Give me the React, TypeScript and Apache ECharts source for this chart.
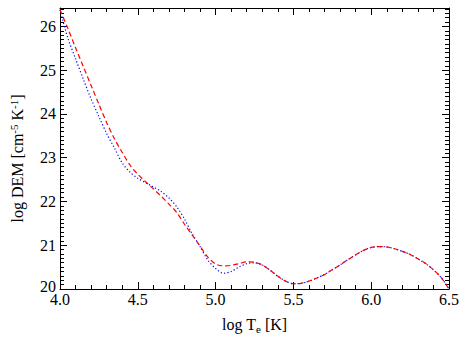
import React, { useEffect, useRef } from "react";
import * as echarts from "echarts";

const logT = [
  4.0, 4.05, 4.1, 4.15, 4.2, 4.25, 4.3, 4.35, 4.4, 4.45, 4.5, 4.55, 4.6, 4.65, 4.7, 4.75, 4.8,
  4.85, 4.9, 4.95, 5.0, 5.05, 5.1, 5.15, 5.2, 5.25, 5.3, 5.35, 5.4, 5.45, 5.5, 5.55, 5.6, 5.65,
  5.7, 5.75, 5.8, 5.85, 5.9, 5.95, 6.0, 6.05, 6.1, 6.15, 6.2, 6.25, 6.3, 6.35, 6.4, 6.45, 6.5,
];

const demRed = [
  26.38, 25.96, 25.51, 25.08, 24.65, 24.22, 23.8, 23.43, 23.12, 22.83, 22.62, 22.45, 22.29,
  22.12, 21.94, 21.75, 21.48, 21.23, 20.98, 20.73, 20.57, 20.53, 20.54, 20.58, 20.62, 20.61,
  20.55, 20.43, 20.29, 20.18, 20.12, 20.13, 20.18, 20.25, 20.33, 20.44, 20.55, 20.67, 20.78,
  20.88, 20.95, 20.97, 20.96, 20.92, 20.86, 20.79, 20.69, 20.58, 20.44, 20.26, 20.0,
];

const demBlue = [
  26.38, 25.74, 25.26, 24.79, 24.34, 23.94, 23.55, 23.22, 22.88, 22.67, 22.53, 22.43, 22.33,
  22.23, 22.08, 21.88, 21.6, 21.26, 20.97, 20.66, 20.47, 20.36, 20.4, 20.5, 20.58, 20.6,
  20.55, 20.43, 20.29, 20.18, 20.12, 20.13, 20.18, 20.25, 20.33, 20.44, 20.55, 20.67, 20.78,
  20.88, 20.95, 20.97, 20.96, 20.92, 20.86, 20.79, 20.69, 20.58, 20.44, 20.26, 20.0,
];

const FONT = "'Liberation Serif', 'Times New Roman', serif";

export default function App() {
  const ref = useRef<HTMLDivElement>(null);
  useEffect(() => {
    if (!ref.current) return;
    const chart = echarts.init(ref.current, undefined, { renderer: "svg" });
    const axisLineStyle = { color: "#000", width: 1 };
    const xCommon = {
      type: "value" as const,
      min: 4.0,
      max: 6.5,
      interval: 0.5,
      splitLine: { show: false },
      axisLine: { show: true, onZero: false, lineStyle: axisLineStyle },
      axisTick: { show: true, inside: true, length: 7, lineStyle: axisLineStyle },
      minorTick: { show: true, splitNumber: 5, length: 4, lineStyle: axisLineStyle },
    };
    const yCommon = {
      type: "value" as const,
      min: 20,
      max: 26.42,
      interval: 1,
      splitLine: { show: false },
      axisLine: { show: true, onZero: false, lineStyle: axisLineStyle },
      axisTick: { show: true, inside: true, length: 7, lineStyle: axisLineStyle },
      minorTick: { show: true, splitNumber: 10, length: 4, lineStyle: axisLineStyle },
    };
    chart.setOption({
      animation: false,
      backgroundColor: "#fff",
      textStyle: { fontFamily: FONT },
      grid: { left: 53, right: 25, top: 8, bottom: 47, containLabel: false },
      xAxis: [
        {
          ...xCommon,
          position: "bottom",
          name: "log T{sub|e} [K]",
          nameLocation: "middle",
          nameGap: 26,
          nameTextStyle: {
            fontFamily: FONT,
            fontSize: 16,
            color: "#000",
            rich: { sub: { fontFamily: FONT, fontSize: 11, color: "#000", verticalAlign: "bottom", padding: [8, 0, 0, 0] } },
          },
          axisLabel: {
            fontFamily: FONT,
            fontSize: 16,
            color: "#000",
            margin: 2,
            formatter: (v: number) => v.toFixed(1),
          },
        },
        { ...xCommon, position: "top", axisLabel: { show: false } },
      ],
      yAxis: [
        {
          ...yCommon,
          position: "left",
          name: "log DEM [cm{sup|-5} K{sup|-1}]",
          nameLocation: "middle",
          nameGap: 33,
          nameTextStyle: {
            fontFamily: FONT,
            fontSize: 16,
            color: "#000",
            padding: [0, 20, 0, 0],
            rich: { sup: { fontFamily: FONT, fontSize: 11, color: "#000", verticalAlign: "top", padding: [0, 0, 8, 0] } },
          },
          axisLabel: {
            fontFamily: FONT,
            fontSize: 16,
            color: "#000",
            margin: 4,
            formatter: (v: number) => {
              if (Math.abs(v - Math.round(v)) > 1e-6) return "";
              const r = Math.round(v);
              return r === 20 ? "{lo|20}" : String(r);
            },
            rich: { lo: { fontFamily: FONT, fontSize: 16, color: "#000", padding: [0, 0, 6, 0] } },
          },
        },
        { ...yCommon, position: "right", axisLabel: { show: false } },
      ],
      series: [
        {
          type: "line",
          data: logT.map((x, i) => [x, demBlue[i]]),
          smooth: 0.3,
          showSymbol: false,
          lineStyle: { color: "#0000ff", width: 1.2, type: [1.2, 2.2] },
          z: 2,
        },
        {
          type: "line",
          data: logT.map((x, i) => [x, demRed[i]]),
          smooth: 0.3,
          showSymbol: false,
          lineStyle: { color: "#ff0000", width: 1.2, type: [5, 3] },
          z: 3,
        },
      ],
    });
    return () => chart.dispose();
  }, []);
  return <div ref={ref} style={{ position: "absolute", left: 0, top: 0, width: 474, height: 339 }} />;
}
